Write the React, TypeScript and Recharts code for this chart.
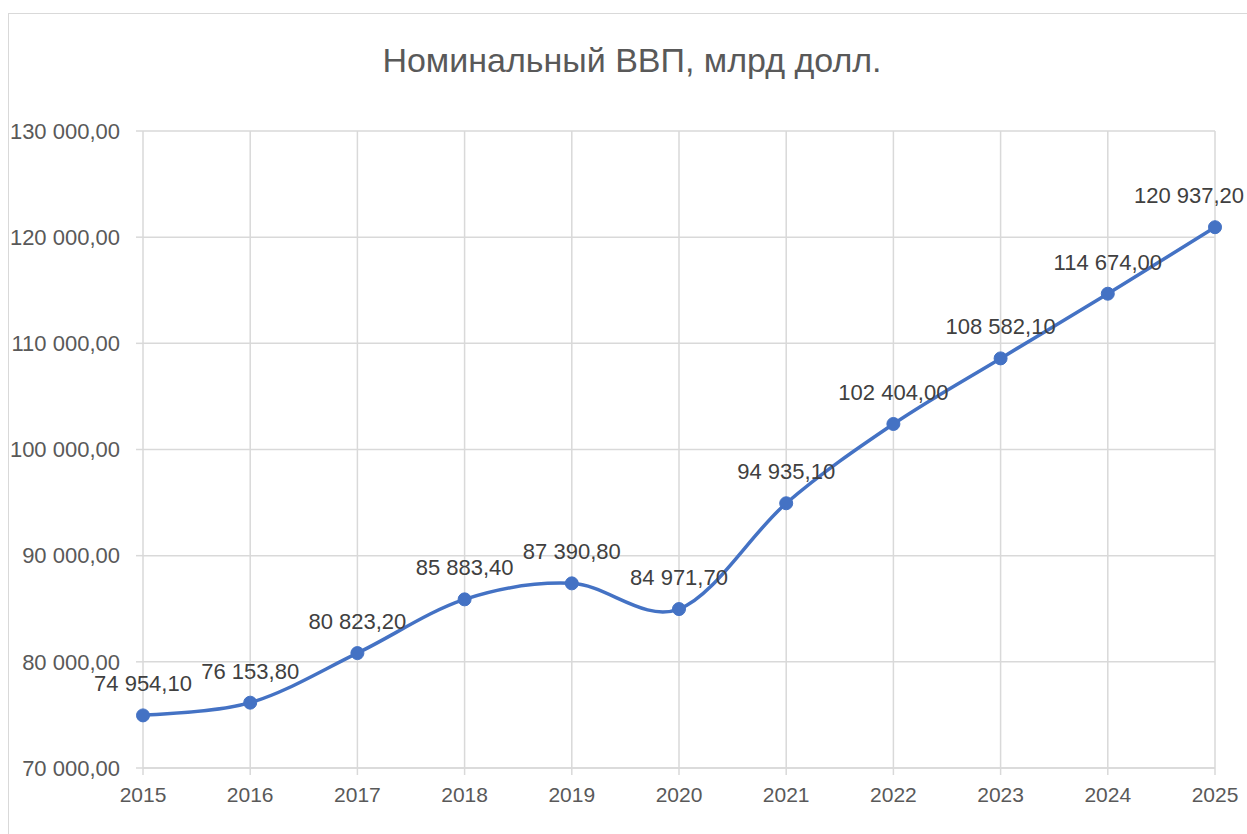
import { LineChart, Line, XAxis, YAxis, CartesianGrid, LabelList } from "recharts";

const years = ["2015", "2016", "2017", "2018", "2019", "2020", "2021", "2022", "2023", "2024", "2025"];
const gdp = [74954.1, 76153.8, 80823.2, 85883.4, 87390.8, 84971.7, 94935.1, 102404.0, 108582.1, 114674.0, 120937.2];
const yTicks = [70000, 80000, 90000, 100000, 110000, 120000, 130000];

const data = years.map((year, i) => ({ year, value: gdp[i] }));

const TEXT = "#595959";
const GRID = "#d9d9d9";
const BLUE = "#4472C4";
const FONT = "'Liberation Sans', Arial, sans-serif";

// "120 937,20"
function fmt(v: number) {
  const [int, dec] = v.toFixed(2).split(".");
  return int.replace(/\B(?=(\d{3})+(?!\d))/g, " ") + "," + dec;
}

// smooth curve roughly like Excel's "smoothed line" (catmull-rom through the points)
function smoothCurve(context: any) {
  let pts: number[][] = [];
  return {
    areaStart() {},
    areaEnd() {},
    lineStart() {
      pts = [];
    },
    point(x: number, y: number) {
      pts.push([+x, +y]);
    },
    lineEnd() {
      if (!pts.length) return;
      context.moveTo(pts[0][0], pts[0][1]);
      const k = 1 / 6;
      for (let i = 0; i < pts.length - 1; i++) {
        const p0 = pts[i - 1] || pts[i];
        const p1 = pts[i];
        const p2 = pts[i + 1];
        const p3 = pts[i + 2] || p2;
        context.bezierCurveTo(
          p1[0] + (p2[0] - p0[0]) * k,
          p1[1] + (p2[1] - p0[1]) * k,
          p2[0] - (p3[0] - p1[0]) * k,
          p2[1] - (p3[1] - p1[1]) * k,
          p2[0],
          p2[1]
        );
      }
    },
  };
}

// data label above the point, pushed left if it would run off the right edge
function PointLabel(props: any) {
  const { x, y, value } = props;
  const text = fmt(Number(value));
  const half = text.length * 5.6;
  const cx = Math.min(x, 1245 - half);
  return (
    <text x={cx} y={y - 24} textAnchor="middle" fill="#404040" fontSize={22} fontFamily={FONT}>
      {text}
    </text>
  );
}

export default function App() {
  return (
    <div style={{ position: "absolute", left: 0, top: 0, width: 1247, height: 834, background: "#fff", overflow: "hidden", fontFamily: FONT }}>
      <div style={{ position: "absolute", left: 8, top: 13, width: 1300, height: 900, border: `1.5px solid ${GRID}` }} />
      <div style={{ position: "absolute", left: 0, width: 1264, top: 41, textAlign: "center", fontSize: 34, color: TEXT }}>
        Номинальный ВВП, млрд долл.
      </div>
      <div style={{ position: "absolute", left: 0, top: 0 }}>
        <LineChart width={1247} height={834} data={data} margin={{ top: 131, right: 32, left: 0, bottom: 0 }}>
          <CartesianGrid stroke={GRID} strokeWidth={1.5} />
          <XAxis
            dataKey="year"
            height={66}
            stroke={GRID}
            strokeWidth={1.5}
            tickSize={7}
            tickMargin={12}
            tick={{ fill: TEXT, fontSize: 21, fontFamily: FONT }}
            interval={0}
          />
          <YAxis
            width={143}
            domain={[70000, 130000]}
            ticks={yTicks}
            axisLine={false}
            stroke={GRID}
            strokeWidth={1.5}
            tickSize={7}
            tickMargin={16}
            tickFormatter={fmt}
            tick={{ fill: TEXT, fontSize: 22, fontFamily: FONT }}
          />
          <Line
            dataKey="value"
            type={smoothCurve as any}
            stroke={BLUE}
            strokeWidth={3.5}
            dot={{ r: 6.5, fill: BLUE, stroke: BLUE, strokeWidth: 1 }}
            isAnimationActive={false}
          >
            <LabelList dataKey="value" content={PointLabel} />
          </Line>
        </LineChart>
      </div>
    </div>
  );
}
